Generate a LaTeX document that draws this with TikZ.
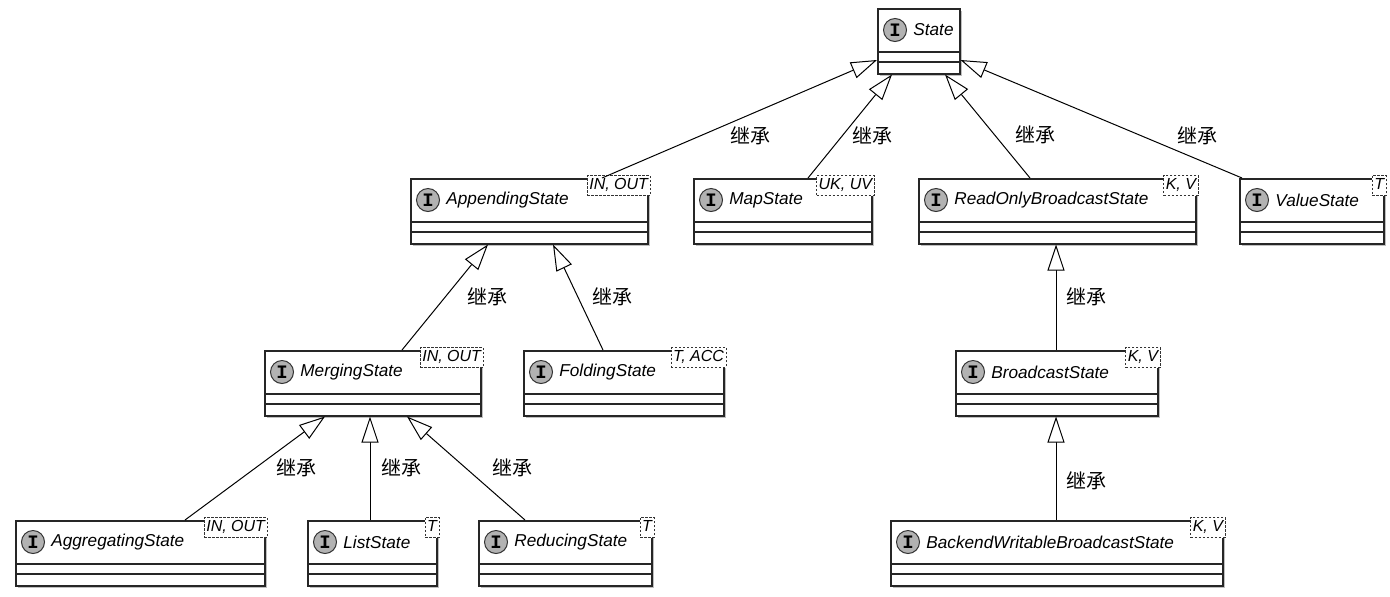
\documentclass[tikz,border=0pt]{standalone}
\usepackage{fontspec}
\setmainfont{Liberation Sans}
\newfontfamily\cjkfont{Noto Sans CJK SC}
\newfontfamily\iconfont{Liberation Mono}
\usetikzlibrary{positioning, calc, shadows, arrows.meta}

% interface box: name, left, top, right, title, type parameters
\newcommand{\iface}[6]{%
  \node[classbox, minimum width={((#4)-(#2))*.5pt}, anchor=north west] (#1) at (#2,#3) {};
  \draw[classline] ($(#1.north west)+(0,44)$) -- ($(#1.north east)+(0,44)$);
  \draw[classline] ($(#1.north west)+(0,54)$) -- ($(#1.north east)+(0,54)$);
  \node[iconI] (#1-icon) at ($(#1.north west)+(18,22)$) {I};
  \node[classname, right=3pt of #1-icon] (#1-name) {#5};
  \if\relax\detokenize{#6}\relax\else
    \node[tparam, anchor=north east] (#1-param) at ($(#1.north east)+(2,-3)$) {#6};
  \fi
}

\begin{document}
\begin{tikzpicture}[x=.5pt, y=-.5pt,
    classbox/.style={draw=black!85, line width=.75pt, fill=white, minimum height=32.5pt, inner sep=0pt,
      drop shadow={shadow xshift=1.2pt, shadow yshift=-1.2pt, fill=black, opacity=.25}},
    classline/.style={draw=black!85, line width=.75pt},
    iconI/.style={circle, draw=black!80, fill=black!30, line width=.5pt, minimum size=11.5pt, inner sep=0pt,
      font=\iconfont\bfseries\fontsize{9.5}{9.5}\selectfont},
    classname/.style={inner sep=0pt, font=\itshape\fontsize{8.6}{10}\selectfont},
    tparam/.style={draw=black!80, fill=white, line width=.5pt, dash pattern=on 1.2pt off .8pt,
      inner xsep=1pt, inner ysep=1.2pt, text height=6pt, text depth=1.6pt,
      font=\itshape\fontsize{8}{9.6}\selectfont},
    inherits/.style={draw, line width=.5pt, -{Triangle[length=13pt, width=8.5pt, fill=white]}},
    rel/.style={inner sep=0pt, font=\cjkfont\fontsize{10}{12}\selectfont}]

    \useasboundingbox (0,0) rectangle (1390,596);

    % Root
    \iface{state}{877}{8}{959}{State}{}

    % First level
    \iface{app}{410}{178}{647}{AppendingState}{IN, OUT}
    \iface{map}{693}{178}{871}{MapState}{UK, UV}
    \iface{rob}{918}{178}{1195}{ReadOnlyBroadcastState}{K, V}
    \iface{val}{1239}{178}{1383}{ValueState}{T}

    % Second level
    \iface{merg}{264}{350}{480}{MergingState}{IN, OUT}
    \iface{fold}{523}{350}{723}{FoldingState}{T, ACC}
    \iface{bcast}{955}{350}{1157}{BroadcastState}{K, V}

    % Third level
    \iface{agg}{15}{520}{264}{AggregatingState}{IN, OUT}
    \iface{list}{307}{520}{436}{ListState}{T}
    \iface{red}{478}{520}{651}{ReducingState}{T}
    \iface{back}{890}{520}{1222}{BackendWritableBroadcastState}{K, V}

    % Inheritance arrows
    \draw[inherits] ($(app.north west)+(192,0)$) -- ($(state.north west)+(0,52)$);
    \draw[inherits] ($(map.north west)+(115,0)$) -- ($(state.south west)+(15,0)$);
    \draw[inherits] ($(rob.north west)+(112,0)$) -- ($(state.south west)+(68,0)$);
    \draw[inherits] ($(val.north west)+(3,0)$) -- ($(state.north east)+(0,52)$);
    \draw[inherits] ($(merg.north west)+(138,0)$) -- ($(app.south west)+(78,0)$);
    \draw[inherits] ($(fold.north west)+(80,0)$) -- ($(app.south west)+(143,0)$);
    \draw[inherits] ($(bcast.north west)+(101,0)$) -- ($(rob.south west)+(138,0)$);
    \draw[inherits] ($(agg.north west)+(170,0)$) -- ($(merg.south west)+(61,0)$);
    \draw[inherits] ($(list.north west)+(63,0)$) -- ($(merg.south west)+(106,0)$);
    \draw[inherits] ($(red.north west)+(47,0)$) -- ($(merg.south west)+(143,0)$);
    \draw[inherits] ($(back.north west)+(166,0)$) -- ($(bcast.south west)+(101,0)$);

    % Labels
    \node[rel] (l-app) at (750,136) {继承};
    \node[rel] (l-map) at (872,136) {继承};
    \node[rel] (l-rob) at (1035,135) {继承};
    \node[rel] (l-val) at (1197,136) {继承};
    \node[rel] (l-merg) at (487,297) {继承};
    \node[rel] (l-fold) at (612,297) {继承};
    \node[rel] (l-bcast) at (1086,297) {继承};
    \node[rel] (l-agg) at (296,468) {继承};
    \node[rel] (l-list) at (401,468) {继承};
    \node[rel] (l-red) at (512,468) {继承};
    \node[rel] (l-back) at (1086,481) {继承};

\end{tikzpicture}
\end{document}
